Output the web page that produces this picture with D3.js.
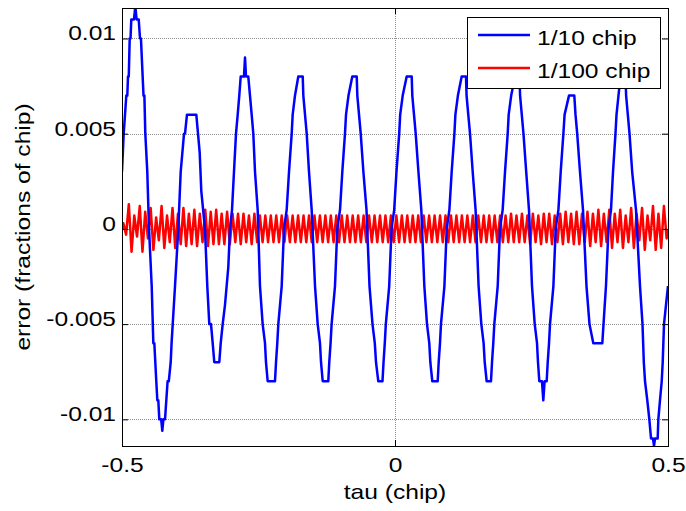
<!DOCTYPE html>
<html>
<head>
<meta charset="utf-8">
<script src="https://cdn.jsdelivr.net/npm/d3@7/dist/d3.min.js"></script>
<style>
  html, body { margin: 0; padding: 0; background: #fff; }
  svg { display: block; font-family: "Liberation Sans", Arial, sans-serif; }
</style>
</head>
<body>
<div id="chart"></div>
<script>
// 1/10 chip: staircase error curve (corner points)
const tau10 = [
  -0.5000, -0.4969, -0.4921, -0.4903, -0.4890, -0.4876, -0.4859, -0.4844, -0.4830, -0.4780,
  -0.4756, -0.4733, -0.4694, -0.4670, -0.4653, -0.4606, -0.4590, -0.4573, -0.4537, -0.4505,
  -0.4456, -0.4426, -0.4408, -0.4372, -0.4353, -0.4335, -0.4317, -0.4282, -0.4262, -0.4242,
  -0.4212, -0.4165, -0.4143, -0.4108, -0.4092, -0.4071, -0.4029, -0.3969, -0.3925, -0.3864,
  -0.3846, -0.3810, -0.3639, -0.3608, -0.3577, -0.3548, -0.3480, -0.3438, -0.3401, -0.3370,
  -0.3339, -0.3310, -0.3218, -0.3192, -0.3156, -0.3114, -0.3053, -0.3022, -0.2985, -0.2949,
  -0.2912, -0.2881, -0.2852, -0.2826, -0.2766, -0.2747, -0.2729, -0.2687, -0.2656, -0.2625,
  -0.2595, -0.2564, -0.2515, -0.2473, -0.2424, -0.2381, -0.2363, -0.2332, -0.2198, -0.2179,
  -0.2156, -0.2137, -0.2075, -0.2033, -0.1984, -0.1941, -0.1892, -0.1874, -0.1832, -0.1771,
  -0.1690, -0.1679, -0.1648, -0.1617, -0.1575, -0.1526, -0.1465, -0.1416, -0.1374, -0.1355,
  -0.1324, -0.1222, -0.1204, -0.1180, -0.1161, -0.1099, -0.1057, -0.1007, -0.0965, -0.0916,
  -0.0897, -0.0852, -0.0782, -0.0701, -0.0690, -0.0659, -0.0628, -0.0579, -0.0522, -0.0467,
  -0.0412, -0.0370, -0.0348, -0.0306, -0.0229, -0.0210, -0.0187, -0.0168, -0.0106, -0.0064,
  -0.0015,  0.0027,  0.0077,  0.0095,  0.0141,  0.0214,  0.0306,  0.0317,  0.0348,  0.0379,
   0.0429,  0.0482,  0.0537,  0.0586,  0.0628,  0.0647,  0.0683,  0.0782,  0.0800,  0.0824,
   0.0842,  0.0905,  0.0947,  0.0996,  0.1038,  0.1088,  0.1106,  0.1152,  0.1221,  0.1300,
   0.1311,  0.1342,  0.1374,  0.1423,  0.1476,  0.1531,  0.1581,  0.1623,  0.1643,  0.1679,
   0.1758,  0.1777,  0.1800,  0.1819,  0.1881,  0.1923,  0.1972,  0.2015,  0.2064,  0.2082,
   0.2128,  0.2198,  0.2280,  0.2291,  0.2322,  0.2353,  0.2403,  0.2454,  0.2509,  0.2559,
   0.2601,  0.2619,  0.2643,  0.2692,  0.2716,  0.2740,  0.2778,  0.2797,  0.2821,  0.2839,
   0.2901,  0.2943,  0.2993,  0.3035,  0.3084,  0.3106,  0.3187,  0.3284,  0.3306,  0.3337,
   0.3388,  0.3443,  0.3507,  0.3562,  0.3632,  0.3797,  0.3819,  0.3864,  0.3910,  0.3956,
   0.3993,  0.4038,  0.4057,  0.4093,  0.4130,  0.4222,  0.4233,  0.4264,  0.4295,  0.4344,
   0.4414,  0.4487,  0.4533,  0.4557,  0.4579,  0.4621,  0.4658,  0.4689,  0.4725,  0.4744,
   0.4762,  0.4811,  0.4823,  0.4853,  0.4885,  0.4903,  0.4927,  0.4963,  0.5000
];
const err10 = [
   0.003,  0.005,  0.007,  0.007,  0.008,  0.008,  0.010,  0.010,  0.011,  0.011,
   0.0117, 0.011,  0.011,  0.010,  0.010,  0.007,  0.007,  0.005,  0.003,  0.000,
  -0.003, -0.006, -0.006, -0.008, -0.009, -0.009, -0.010, -0.010, -0.0106, -0.010,
  -0.010, -0.008, -0.008, -0.007, -0.006, -0.005, -0.003,  0.000,  0.003,  0.005,
   0.005,  0.006,  0.006,  0.005,  0.004,  0.002,  0.000, -0.003, -0.005, -0.005,
  -0.006, -0.007, -0.007, -0.006, -0.005, -0.004, -0.002,  0.000,  0.001,  0.003,
   0.005,  0.006,  0.007,  0.008,  0.008,  0.009,  0.008,  0.008,  0.007,  0.006,
   0.005,  0.003,  0.001, -0.003, -0.005, -0.006, -0.007, -0.008, -0.008, -0.007,
  -0.006, -0.005, -0.003,  0.000,  0.001,  0.003,  0.005,  0.006,  0.007,  0.008,
   0.008,  0.007,  0.006,  0.005,  0.003,  0.001, -0.003, -0.005, -0.006, -0.007,
  -0.008, -0.008, -0.007, -0.006, -0.005, -0.003,  0.000,  0.001,  0.003,  0.005,
   0.006,  0.007,  0.008,  0.008,  0.007,  0.006,  0.005,  0.003,  0.001, -0.003,
  -0.005, -0.006, -0.007, -0.008, -0.008, -0.007, -0.006, -0.005, -0.003,  0.000,
   0.001,  0.003,  0.005,  0.006,  0.007,  0.008,  0.008,  0.007,  0.006,  0.005,
   0.003,  0.001, -0.003, -0.005, -0.006, -0.007, -0.008, -0.008, -0.007, -0.006,
  -0.005, -0.003,  0.000,  0.001,  0.003,  0.005,  0.006,  0.007,  0.008,  0.008,
   0.007,  0.006,  0.005,  0.003,  0.001, -0.003, -0.005, -0.006, -0.007, -0.008,
  -0.008, -0.007, -0.006, -0.005, -0.003,  0.000,  0.001,  0.003,  0.005,  0.006,
   0.007,  0.008,  0.008,  0.007,  0.006,  0.005,  0.003,  0.001, -0.003, -0.005,
  -0.006, -0.007, -0.008, -0.008, -0.009, -0.008, -0.008, -0.007, -0.006, -0.005,
  -0.003,  0.000,  0.001,  0.003,  0.005,  0.006,  0.007,  0.007,  0.006,  0.005,
   0.003,  0.001, -0.003, -0.005, -0.006, -0.006, -0.005, -0.003,  0.000,  0.001,
   0.003,  0.005,  0.006,  0.007,  0.008,  0.008,  0.007,  0.006,  0.005,  0.003,
   0.001, -0.003, -0.005, -0.007, -0.008, -0.009, -0.010, -0.011, -0.011, -0.0114,
  -0.011, -0.011, -0.010, -0.009, -0.008, -0.007, -0.005, -0.004, -0.003
];

// 1/100 chip: peak / trough values of each 0.01-chip cycle (plus end points)
const err100 = [
  0,
  0.0003, -0.0003, 0.0013, -0.0012, 0.0007, -0.0004, 0.0012, -0.0012, 0.0009, -0.0005,
  0.0011, -0.0011, 0.0006, -0.0006, 0.0012, -0.0010, 0.0007, -0.0007, 0.0011, -0.0010,
  0.0008, -0.0008, 0.0011, -0.0009, 0.0008, -0.0008, 0.0010, -0.0009, 0.0008, -0.0007,
  0.0010, -0.0009, 0.0009, -0.0008, 0.0010, -0.0008, 0.0008, -0.0008, 0.0009, -0.0008,
  0.0008, -0.0007, 0.0008, -0.0008, 0.0008, -0.0007, 0.0007, -0.0008, 0.0008, -0.0007,
  0.0007, -0.0007, 0.0007, -0.0007, 0.0007, -0.0007, 0.0007, -0.0007, 0.0007, -0.0007,
  0.0007, -0.0007, 0.0007, -0.0007, 0.0007, -0.0007, 0.0007, -0.0007, 0.0007, -0.0007,
  0.0007, -0.0007, 0.0007, -0.0007, 0.0007, -0.0007, 0.0007, -0.0007, 0.0007, -0.0007,
  0.0007, -0.0007, 0.0007, -0.0007, 0.0007, -0.0007, 0.0007, -0.0007, 0.0007, -0.0007,
  0.0007, -0.0007, 0.0007, -0.0007, 0.0007, -0.0007, 0.0007, -0.0007, 0.0007, -0.0007,
  0.0007, -0.0007, 0.0007, -0.0007, 0.0007, -0.0007, 0.0007, -0.0007, 0.0007, -0.0007,
  0.0007, -0.0007, 0.0007, -0.0007, 0.0007, -0.0007, 0.0007, -0.0007, 0.0007, -0.0007,
  0.0007, -0.0007, 0.0007, -0.0007, 0.0007, -0.0007, 0.0007, -0.0007, 0.0007, -0.0007,
  0.0007, -0.0007, 0.0007, -0.0007, 0.0007, -0.0007, 0.0007, -0.0007, 0.0007, -0.0007,
  0.0007, -0.0007, 0.0008, -0.0007, 0.0007, -0.0007, 0.0008, -0.0007, 0.0007, -0.0008,
  0.0008, -0.0007, 0.0007, -0.0008, 0.0008, -0.0007, 0.0008, -0.0008, 0.0007, -0.0007,
  0.0008, -0.0008, 0.0009, -0.0007, 0.0008, -0.0008, 0.0009, -0.0008, 0.0008, -0.0007,
  0.0009, -0.0009, 0.0008, -0.0007, 0.0010, -0.0009, 0.0008, -0.0007, 0.0010, -0.0010,
  0.0008, -0.0007, 0.0010, -0.0010, 0.0007, -0.0007, 0.0011, -0.0010, 0.0008, -0.0006,
  0.0011, -0.0011, 0.0007, -0.0006, 0.0012, -0.0011, 0.0008, -0.0010, 0.0012, -0.0005,
  0
];
// sample positions: ends of the range, then one extreme every half cycle (0.005 chip)
const tau100 = [-0.5].concat(d3.range(200).map(i => -0.4975 + i * 0.005), [0.5]);

const xTicks = [-0.5, 0, 0.5];
const yTicks = [-0.01, -0.005, 0, 0.005, 0.01];
const seriesNames = ["1/10 chip", "1/100 chip"];
const seriesColors = ["#0000ff", "#ff0000"];

const W = 686, H = 511;
const pL = 122, pR = 668, pT = 8, pB = 446; // plot box
const sx = 1.2; // text is drawn a bit wider than the plain font

const x = d3.scaleLinear().domain([-0.5, 0.5]).range([pL, pR]);
const y = d3.scaleLinear().domain([-0.0114, 0.0116]).range([pB, pT]);

const svg = d3.select("#chart").append("svg")
    .attr("width", W)
    .attr("height", H);

svg.append("defs").append("clipPath").attr("id", "plotclip")
    .append("rect")
    .attr("x", pL).attr("y", pT)
    .attr("width", pR - pL).attr("height", pB - pT);

// grid (dotted)
const grid = svg.append("g").attr("class", "grid")
    .attr("stroke", "#8c8c8c")
    .attr("stroke-width", 1)
    .attr("stroke-dasharray", "1,1");
grid.selectAll("line.gy").data(yTicks).enter().append("line")
    .attr("x1", pL).attr("x2", pR)
    .attr("y1", d => Math.round(y(d)) + 0.5)
    .attr("y2", d => Math.round(y(d)) + 0.5);
grid.selectAll("line.gx").data(xTicks).enter().append("line")
    .attr("y1", pT).attr("y2", pB)
    .attr("x1", d => Math.round(x(d)) + 0.5)
    .attr("x2", d => Math.round(x(d)) + 0.5);

// curves
const line = d3.line()
    .x(d => x(d[0]))
    .y(d => y(d[1]));

const plot = svg.append("g").attr("clip-path", "url(#plotclip)");

plot.append("path")
    .datum(tau100.map((t, i) => [t, err100[i]]))
    .attr("d", line)
    .attr("fill", "none")
    .attr("stroke", seriesColors[1])
    .attr("stroke-width", 2.5)
    .attr("stroke-linejoin", "round");

plot.append("path")
    .datum(tau10.map((t, i) => [t, err10[i]]))
    .attr("d", line)
    .attr("fill", "none")
    .attr("stroke", seriesColors[0])
    .attr("stroke-width", 2.5)
    .attr("stroke-linejoin", "round");

// axes: inward ticks on all four sides
const fmt = d => String(d);
const axL = svg.append("g").attr("transform", `translate(${pL},0)`)
    .call(d3.axisLeft(y).tickValues(yTicks).tickSizeInner(-6).tickSizeOuter(0).tickFormat(fmt));
const axR = svg.append("g").attr("transform", `translate(${pR},0)`)
    .call(d3.axisRight(y).tickValues(yTicks).tickSizeInner(-6).tickSizeOuter(0).tickFormat(""));
const axB = svg.append("g").attr("transform", `translate(0,${pB})`)
    .call(d3.axisBottom(x).tickValues(xTicks).tickSizeInner(-6).tickSizeOuter(0).tickFormat(fmt));
const axT = svg.append("g").attr("transform", `translate(0,${pT})`)
    .call(d3.axisTop(x).tickValues(xTicks).tickSizeInner(-6).tickSizeOuter(0).tickFormat(""));

[axL, axR, axB, axT].forEach(a => {
  a.select(".domain").remove();
  a.selectAll(".tick line").attr("stroke", "#000");
});

axL.selectAll(".tick text")
    .attr("fill", "#000")
    .style("font-size", "20.5px")
    .attr("x", -6 / sx)
    .attr("dy", null)
    .attr("y", 1.5)
    .attr("transform", `scale(${sx},1)`);

axB.selectAll(".tick text")
    .attr("fill", "#000")
    .style("font-size", "20.5px")
    .attr("dy", null)
    .attr("y", 26)
    .attr("transform", `scale(${sx},1)`);

// frame
svg.append("rect")
    .attr("x", pL + 0.5).attr("y", pT + 0.5)
    .attr("width", pR - pL).attr("height", pB - pT)
    .attr("fill", "none")
    .attr("stroke", "#000")
    .attr("stroke-width", 1);

// axis titles
svg.append("text")
    .attr("transform", `translate(${(pL + pR) / 2},499) scale(${sx},1)`)
    .attr("text-anchor", "middle")
    .style("font-size", "20.5px")
    .text("tau (chip)");

svg.append("text")
    .attr("transform", `translate(30,${(pT + pB) / 2}) rotate(-90) scale(${sx},1)`)
    .attr("text-anchor", "middle")
    .style("font-size", "20.5px")
    .text("error (fractions of chip)");

// legend
const legend = svg.append("g").attr("class", "legend");
legend.append("rect")
    .attr("x", 467.5).attr("y", 17.5)
    .attr("width", 193).attr("height", 71)
    .attr("fill", "#fff")
    .attr("stroke", "#000")
    .attr("stroke-width", 1);

const items = legend.selectAll("g.item").data(seriesNames).enter().append("g")
    .attr("class", "item")
    .attr("transform", (d, i) => `translate(0,${35 + i * 33})`);
items.append("line")
    .attr("x1", 478).attr("x2", 530)
    .attr("y1", 0).attr("y2", 0)
    .attr("stroke", (d, i) => seriesColors[i])
    .attr("stroke-width", 2.5);
items.append("text")
    .attr("transform", `translate(537,10) scale(${sx},1)`)
    .style("font-size", "20.5px")
    .text(d => d);
</script>
</body>
</html>
